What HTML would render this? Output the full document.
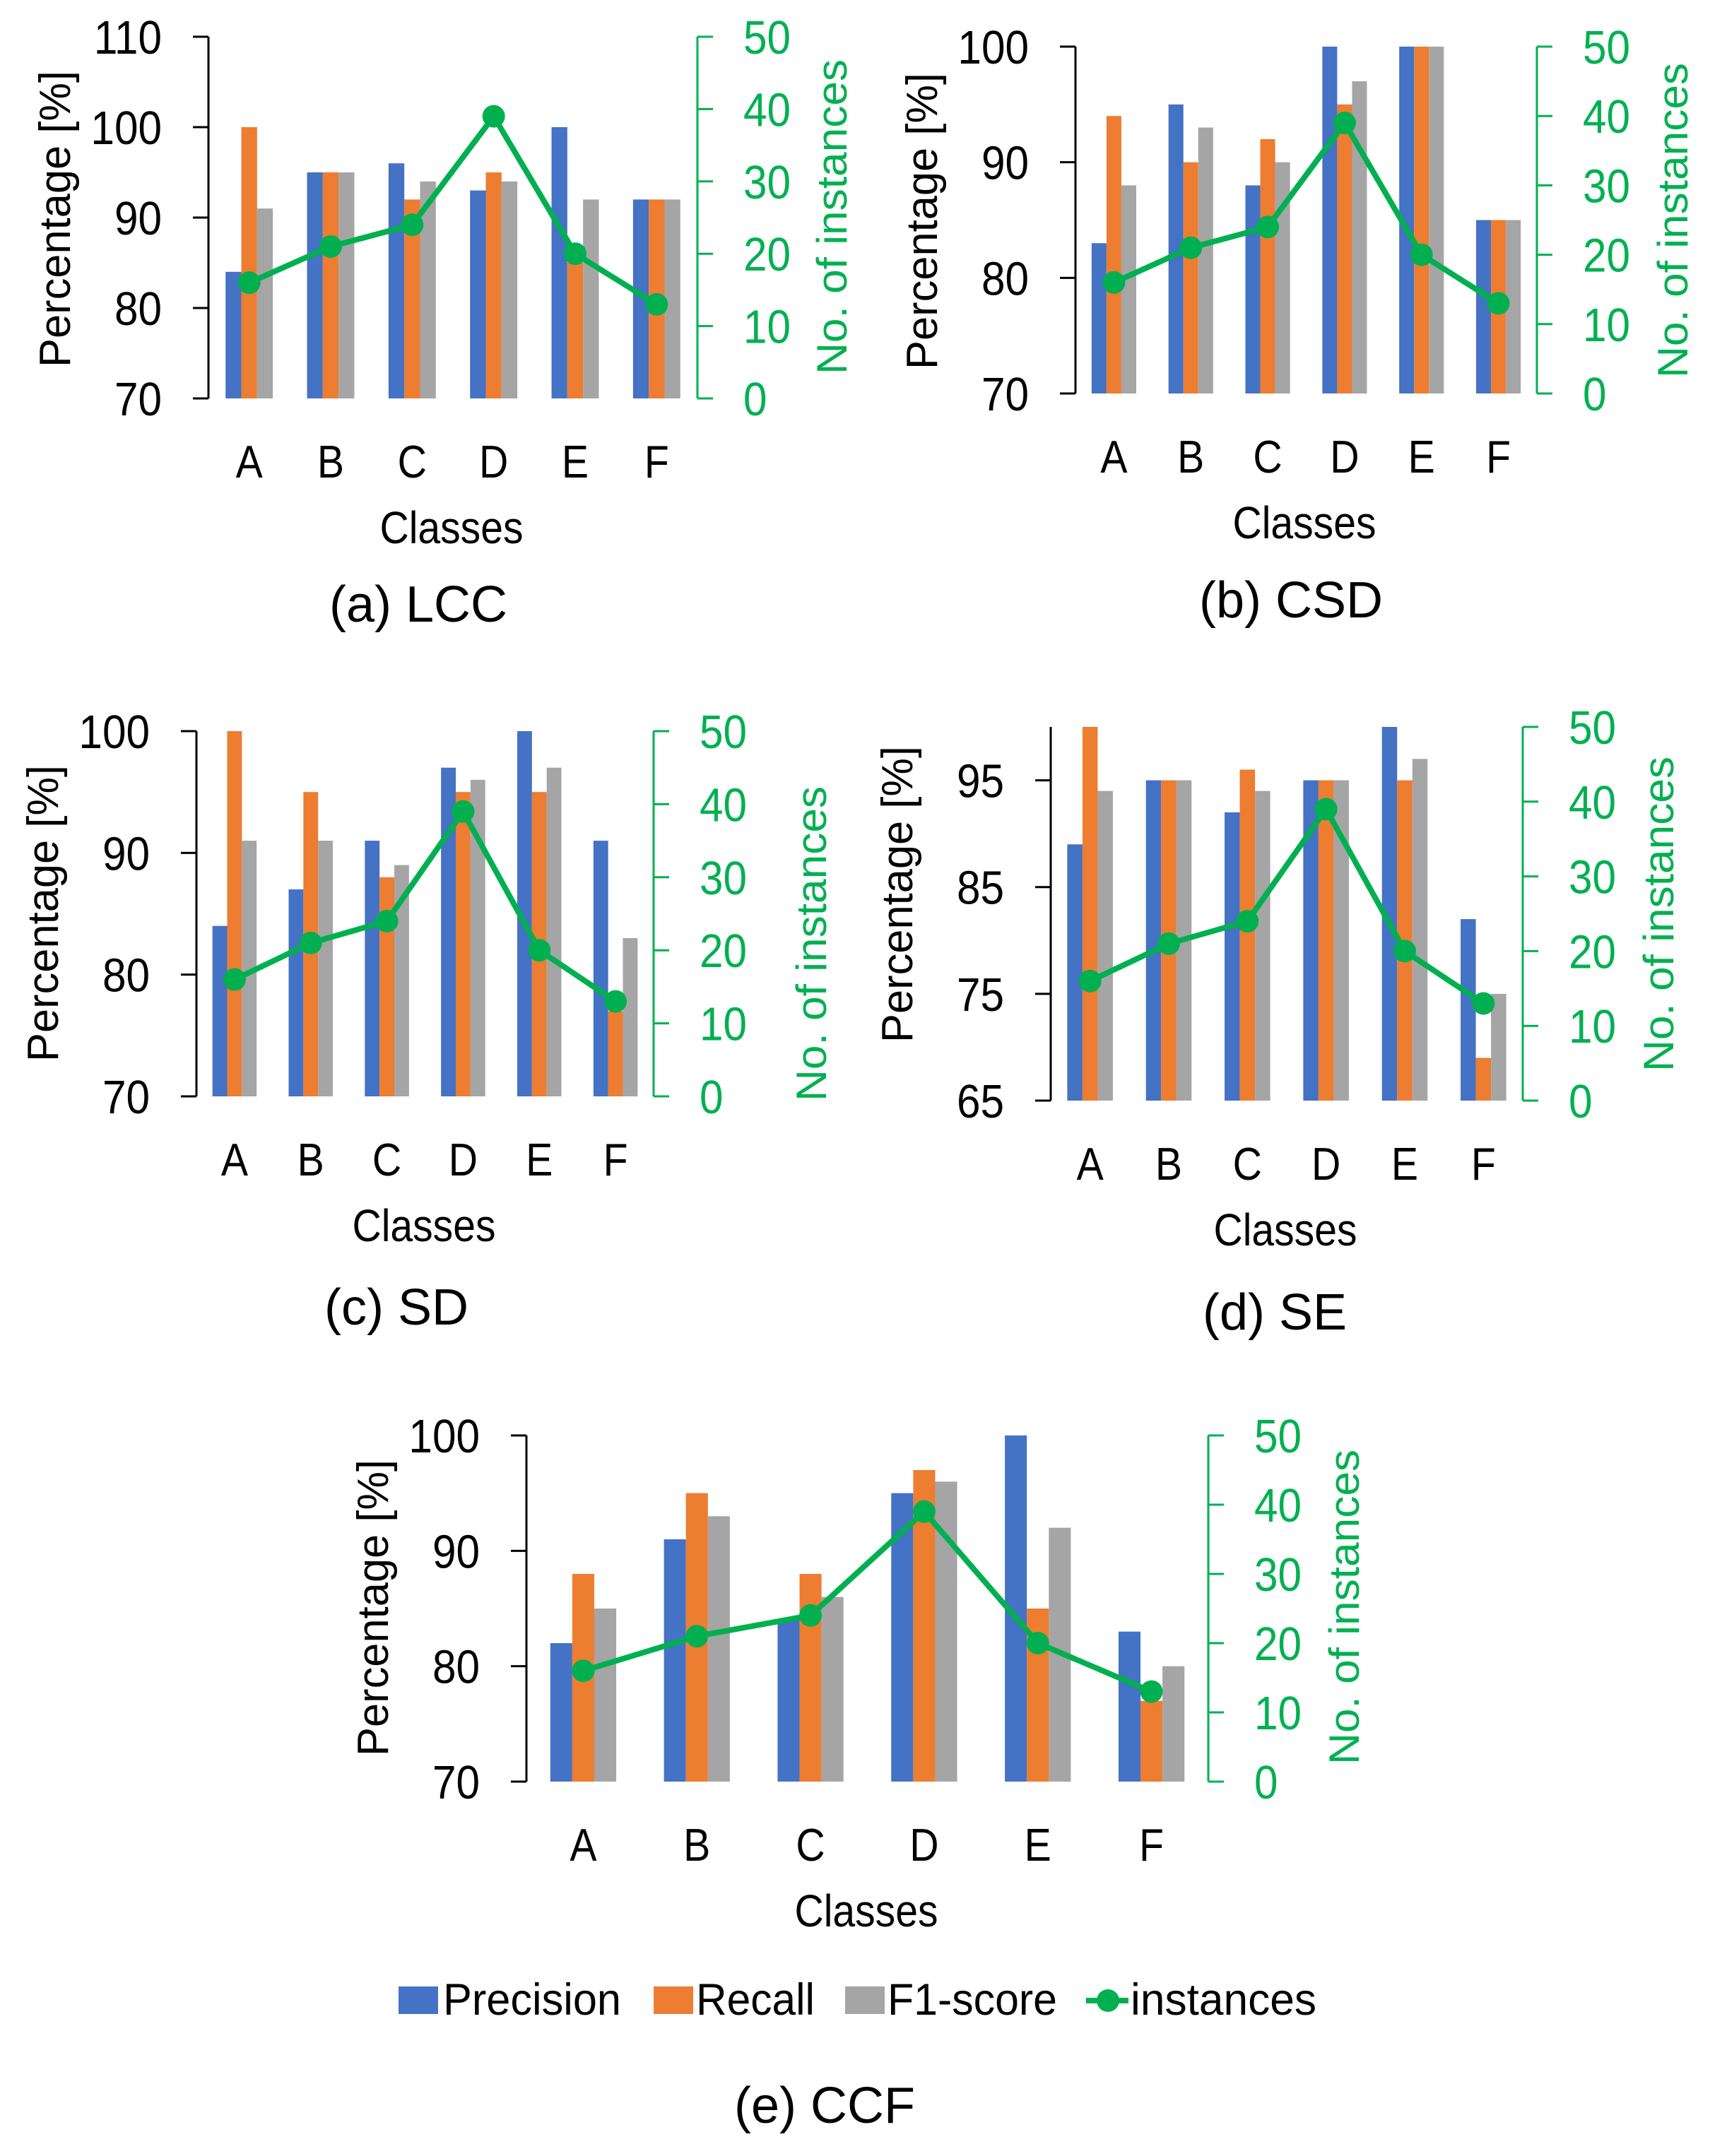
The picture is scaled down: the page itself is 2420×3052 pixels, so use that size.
<!DOCTYPE html>
<html lang="en">
<head>
<meta charset="utf-8">
<title>Per-class precision, recall and F1-score charts</title>
<style>
html,body{margin:0;padding:0;background:#fff;width:2420px;height:3052px;overflow:hidden}
svg{display:block}
text{font-family:"Liberation Sans",Arial,sans-serif}
</style>
</head>
<body>
<svg id="figure" xmlns="http://www.w3.org/2000/svg" width="2420" height="3052" viewBox="0 0 2420 3052">
  <rect x="0" y="0" width="2420" height="3052" fill="#ffffff"/>
  <g id="charts"></g>
  <g id="legend">
    <rect x="564" y="2812" width="56" height="39" fill="#4472C4"/>
    <text x="627" y="2852" font-size="63" textLength="252" lengthAdjust="spacingAndGlyphs">Precision</text>
    <rect x="925" y="2812" width="56" height="39" fill="#ED7D31"/>
    <text x="985" y="2852" font-size="63" textLength="168" lengthAdjust="spacingAndGlyphs">Recall</text>
    <rect x="1196" y="2812" width="56" height="39" fill="#A5A5A5"/>
    <text x="1256" y="2852" font-size="63" textLength="240" lengthAdjust="spacingAndGlyphs">F1-score</text>
    <line x1="1537" y1="2832" x2="1597" y2="2832" stroke="#00B050" stroke-width="8"/>
    <circle cx="1568" cy="2832" r="16" fill="#00B050"/>
    <text x="1600" y="2852" font-size="63" textLength="263" lengthAdjust="spacingAndGlyphs">instances</text>
  </g>
</svg>
<script>
// ---- chart data ----
const categories = ['A', 'B', 'C', 'D', 'E', 'F'];
const instances = [16, 21, 24, 39, 20, 13];
const instanceTicks = [0, 10, 20, 30, 40, 50];

const lccPrecision = [84, 95, 96, 93, 100, 92];
const lccRecall = [100, 95, 92, 95, 85, 92];
const lccF1 = [91, 95, 94, 94, 92, 92];
const lccTicks = [70, 80, 90, 100, 110];

const csdPrecision = [83, 95, 88, 100, 100, 85];
const csdRecall = [94, 90, 92, 95, 100, 85];
const csdF1 = [88, 93, 90, 97, 100, 85];
const csdTicks = [70, 80, 90, 100];

const sdPrecision = [84, 87, 91, 97, 100, 91];
const sdRecall = [100, 95, 88, 95, 95, 77];
const sdF1 = [91, 91, 89, 96, 97, 83];
const sdTicks = [70, 80, 90, 100];

const sePrecision = [89, 95, 92, 95, 100, 82];
const seRecall = [100, 95, 96, 95, 95, 69];
const seF1 = [94, 95, 94, 95, 97, 75];
const seTicks = [65, 75, 85, 95];

const ccfPrecision = [82, 91, 84, 95, 100, 83];
const ccfRecall = [88, 95, 88, 97, 85, 77];
const ccfF1 = [85, 93, 86, 96, 92, 80];
const ccfTicks = [70, 80, 90, 100];

const seriesColors = ['#4472C4', '#ED7D31', '#A5A5A5'];
const seriesNames = ['precision', 'recall', 'f1-score'];
const green = '#00B050';
const svgNS = 'http://www.w3.org/2000/svg';

function make(parent, tag, attrs, text) {
  const node = document.createElementNS(svgNS, tag);
  for (const key in attrs) node.setAttribute(key, attrs[key]);
  if (text !== undefined) node.textContent = text;
  parent.appendChild(node);
  return node;
}

function drawPanel(p) {
  const root = document.getElementById('charts');
  const g = make(root, 'g', {});
  
  

  const plotW = p.right - p.left;
  const bandW = plotW / categories.length;
  const barW = bandW * 0.58 / 3;
  const yLeft = v => p.bottom - (v - p.min) / (p.max - p.min) * (p.bottom - p.top);
  const yRight = v => p.bottom - v / 50 * (p.bottom - p.top);
  const xCenter = i => p.left + bandW * (i + 0.5);

  // bars
  p.series.forEach((values, s) => {
    values.forEach((v, i) => {
      const bar = make(g, 'rect', {
        x: xCenter(i) - 1.5 * barW + s * barW,
        y: yLeft(v),
        width: barW,
        height: p.bottom - yLeft(v),
        fill: seriesColors[s]
      });
      
      
    });
  });

  // left axis
  const leftAxis = make(g, 'line', {x1: p.left, y1: p.top, x2: p.left, y2: p.bottom, stroke: '#000', 'stroke-width': 3});
  
  
  p.ticks.forEach(t => {
    const tick = make(g, 'line', {x1: p.left - 22, y1: yLeft(t), x2: p.left, y2: yLeft(t), stroke: '#000', 'stroke-width': 3});
    
    
    const label = make(g, 'text', {transform: 'translate(' + (p.left - 66) + ' ' + (yLeft(t) + 24) + ') scale(0.9 1)', 'font-size': 67, 'text-anchor': 'end', fill: '#000'}, String(t));
    
    
  });

  // right axis
  const rightAxis = make(g, 'line', {x1: p.right, y1: p.top, x2: p.right, y2: p.bottom, stroke: green, 'stroke-width': 3});
  
  
  instanceTicks.forEach(t => {
    const tick = make(g, 'line', {x1: p.right, y1: yRight(t), x2: p.right + 22, y2: yRight(t), stroke: green, 'stroke-width': 3});
    
    
    const label = make(g, 'text', {transform: 'translate(' + (p.right + 65) + ' ' + (yRight(t) + 24) + ') scale(0.9 1)', 'font-size': 67, fill: green}, String(t));
    
    
  });

  // category labels
  categories.forEach((c, i) => {
    const label = make(g, 'text', {transform: 'translate(' + xCenter(i) + ' ' + (p.bottom + 112) + ') scale(0.88 1)', 'font-size': 65, 'text-anchor': 'middle', fill: '#000'}, c);
    
    
  });

  // instances line and markers
  const linePoints = instances.map((v, i) => xCenter(i) + ',' + yRight(v)).join(' ');
  const line = make(g, 'polyline', {points: linePoints, fill: 'none', stroke: green, 'stroke-width': 8, 'stroke-linejoin': 'round'});
  
  
  instances.forEach((v, i) => {
    const dot = make(g, 'circle', {cx: xCenter(i), cy: yRight(v), r: 16, fill: green});
    
    
  });

  // titles
  const xTitle = make(g, 'text', {x: p.xTitleX, y: p.bottom + 205, 'font-size': 64, 'text-anchor': 'middle', textLength: 203, lengthAdjust: 'spacingAndGlyphs', fill: '#000'}, 'Classes');
  
  

  const yTitle = make(g, 'text', {
    transform: 'translate(' + (p.left - 196) + ' ' + p.yTitleY + ') rotate(-90)',
    'font-size': 62, 'text-anchor': 'middle', textLength: 420, lengthAdjust: 'spacingAndGlyphs', fill: '#000'
  }, 'Percentage [%]');
  
  

  const y2Title = make(g, 'text', {
    transform: 'translate(' + p.y2TitleX + ' ' + p.y2TitleY + ') rotate(-90)',
    'font-size': 60, 'text-anchor': 'middle', textLength: 446, lengthAdjust: 'spacingAndGlyphs', fill: green
  }, 'No. of instances');
  
  

  const caption = make(g, 'text', {x: p.captionX, y: p.captionY, 'font-size': 72, 'text-anchor': 'middle', fill: '#000'}, p.caption);
  
  
}

drawPanel({id: 'lcc', caption: '(a) LCC', series: [lccPrecision, lccRecall, lccF1], ticks: lccTicks, min: 70, max: 110,
  left: 295, right: 987, top: 52, bottom: 564, xTitleX: 639, yTitleY: 310, y2TitleX: 1198, y2TitleY: 307, captionX: 592, captionY: 880});
drawPanel({id: 'csd', caption: '(b) CSD', series: [csdPrecision, csdRecall, csdF1], ticks: csdTicks, min: 70, max: 100,
  left: 1522, right: 2175, top: 66, bottom: 557, xTitleX: 1846, yTitleY: 313, y2TitleX: 2388, y2TitleY: 312, captionX: 1827, captionY: 874});
drawPanel({id: 'sd', caption: '(c) SD', series: [sdPrecision, sdRecall, sdF1], ticks: sdTicks, min: 70, max: 100,
  left: 278, right: 925, top: 1035, bottom: 1552, xTitleX: 600, yTitleY: 1293, y2TitleX: 1169, y2TitleY: 1336, captionX: 561, captionY: 1875});
drawPanel({id: 'se', caption: '(d) SE', series: [sePrecision, seRecall, seF1], ticks: seTicks, min: 65, max: 100,
  left: 1487, right: 2155, top: 1029, bottom: 1558, xTitleX: 1819, yTitleY: 1266, y2TitleX: 2368, y2TitleY: 1294, captionX: 1804, captionY: 1882});
drawPanel({id: 'ccf', caption: '(e) CCF', series: [ccfPrecision, ccfRecall, ccfF1], ticks: ccfTicks, min: 70, max: 100,
  left: 745, right: 1710, top: 2032, bottom: 2522, xTitleX: 1226, yTitleY: 2276, y2TitleX: 1923, y2TitleY: 2275, captionX: 1167, captionY: 3005});
</script>
</body>
</html>
